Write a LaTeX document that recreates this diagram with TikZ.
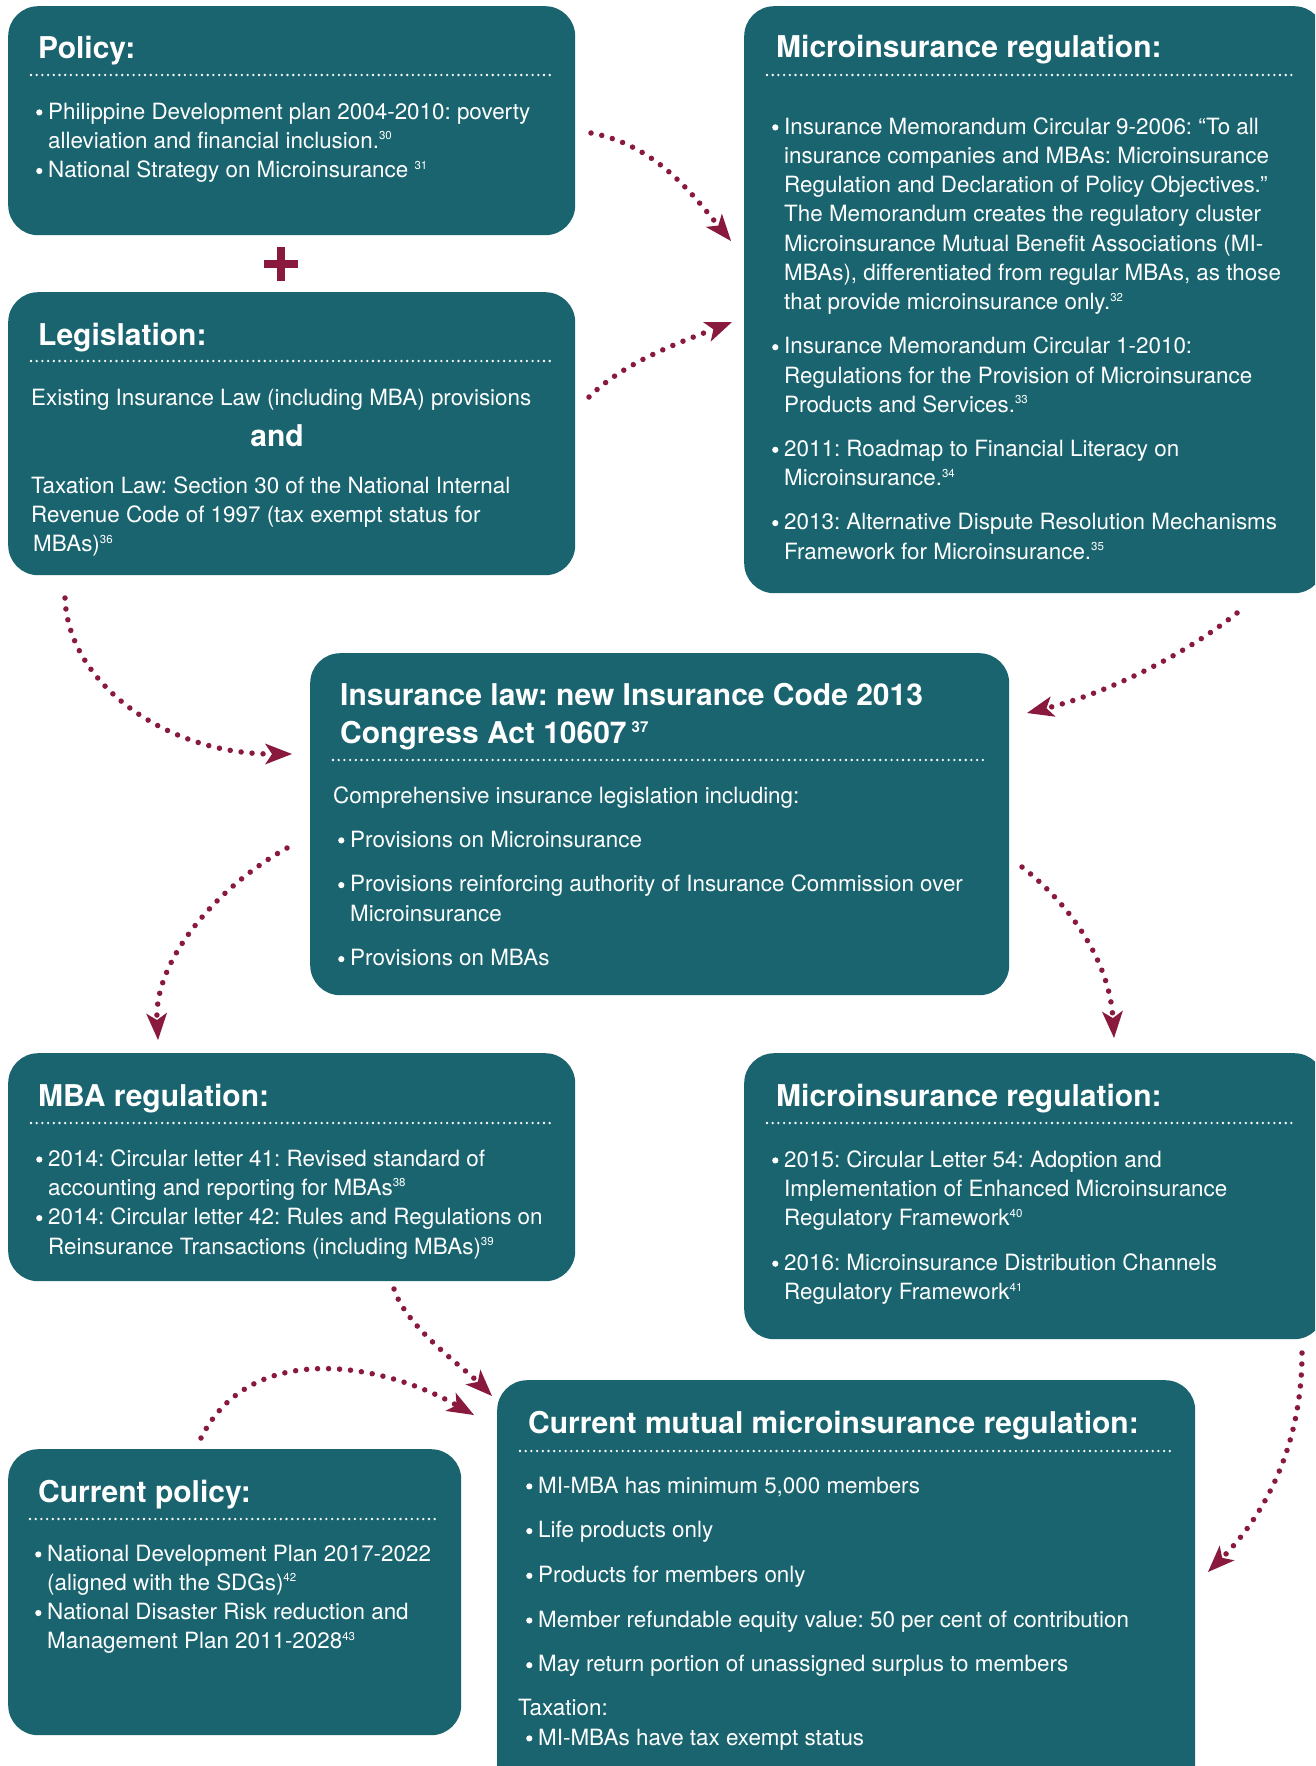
\documentclass[tikz,border=0pt]{standalone}
\usepackage{fontspec}
\setmainfont{TeX Gyre Heros}
\usetikzlibrary{arrows.meta}
\definecolor{boxteal}{RGB}{25,100,111}
\definecolor{arrowred}{RGB}{138,26,61}
\newcommand{\fnote}[1]{\raisebox{8.5pt}{\fontsize{11.5}{11.5}\selectfont #1}}
\newcommand{\hfnote}[1]{\raisebox{11pt}{\fontsize{15}{15}\selectfont #1}}
\newcommand{\bul}{\makebox[12pt][l]{\tikz[baseline=0pt]\fill[white] (3.4pt,6.6pt) circle[radius=3.1pt];}}
\newcommand{\ind}{\hspace*{12pt}}
\tikzset{
  box/.style={fill=boxteal, rounded corners=30pt, anchor=north west, inner sep=0pt, draw=none},
  head/.style={anchor=base west, inner sep=0pt, text=white, align=left, font=\fontsize{30}{38}\selectfont\bfseries\frenchspacing},
  body/.style={anchor=base west, inner sep=0pt, text=white, align=left, font=\fontsize{22.4}{29.3}\selectfont\frenchspacing},
  sep/.style={white, line width=2.6pt, line cap=round, dash pattern=on 0pt off 5.7pt},
  flow/.style={arrowred, line width=5.5pt, line cap=round, dash pattern=on 0pt off 11pt,
    -{Stealth[length=27pt, width=21pt, inset=7pt, line width=0pt]}},
}
\begin{document}
\begin{tikzpicture}[x=1pt,y=-1pt]
\useasboundingbox (0,0) rectangle (1315,1766);
\fill[white] (0,0) rectangle (1315,1766);
\begin{scope}
\clip (0,0) rectangle (1315,1766);
% boxes
\node[box, minimum width=567pt, minimum height=229pt] (policy) at (8,6) {};
\node[box, minimum width=567pt, minimum height=283pt] (legis) at (8,292) {};
\node[box, minimum width=580pt, minimum height=587pt] (microA) at (744,6) {};
\node[box, minimum width=699pt, minimum height=342pt] (center) at (310,653) {};
\node[box, minimum width=567pt, minimum height=228pt] (mba) at (8,1053) {};
\node[box, minimum width=580pt, minimum height=286pt] (microB) at (744,1053) {};
\node[box, minimum width=453pt, minimum height=286pt] (curpol) at (8,1449) {};
\node[box, minimum width=698pt, minimum height=420pt] (curmut) at (497,1380) {};
\end{scope}

% plus sign
\fill[arrowred] (276.5,247) rectangle (284.5,281);
\fill[arrowred] (263.5,260) rectangle (297.5,268);

% Policy (multi-line nodes are placed at the baseline of their last line)
\node[head] (policyH) at (38,59) {Policy:};
\draw[sep] (31,75) -- (553,75);
\node[body] (policyT) at (36,177.6) {\bul Philippine Development plan 2004-2010: poverty\\
\ind alleviation and financial inclusion.\fnote{30}\\
\bul National Strategy on Microinsurance \fnote{31}};

% Legislation
\node[head] (legisH) at (38,345) {Legislation:};
\draw[sep] (31,361) -- (553,361);
\node[body] (legisA) at (31,405) {Existing Insurance Law (including MBA) provisions};
\node[head, anchor=base] (legisAnd) at (277,446) {and};
\node[body] (legisB) at (31,551.6) {Taxation Law: Section 30 of the National Internal\\
Revenue Code of 1997 (tax exempt status for\\
\hspace*{2pt}MBAs)\fnote{36}};

% Microinsurance regulation (top)
\node[head] (microAH) at (776,58) {Microinsurance regulation:};
\draw[sep] (767,75) -- (1296,75);
\node[body] (microAT) at (772,559) {\bul Insurance Memorandum Circular 9-2006: “To all\\
\ind insurance companies and MBAs: Microinsurance\\
\ind Regulation and Declaration of Policy Objectives.”\\
\ind The Memorandum creates the regulatory cluster\\
\ind Microinsurance Mutual Benefit Associations (MI-\\
\ind MBAs), differentiated from regular MBAs, as those\\
\ind that provide microinsurance only.\fnote{32}\\[14.7pt]
\bul Insurance Memorandum Circular 1-2010:\\
\ind Regulations for the Provision of Microinsurance\\
\ind Products and Services.\fnote{33}\\[14.7pt]
\bul 2011: Roadmap to Financial Literacy on\\
\ind Microinsurance.\fnote{34}\\[14.7pt]
\bul 2013: Alternative Dispute Resolution Mechanisms\\
\ind Framework for Microinsurance.\fnote{35}};

% Center
\node[head] (centerH) at (340,743) {Insurance law: new Insurance Code 2013\\
Congress Act 10607\,\hfnote{37}};
\draw[sep] (333,760) -- (986,760);
\node[body] (centerA) at (333,803) {Comprehensive insurance legislation including:};
\node[body] (centerT) at (338,965.7) {\bul Provisions on Microinsurance\\[15.4pt]
\bul Provisions reinforcing authority of Insurance Commission over\\
\ind Microinsurance\\[15.4pt]
\bul Provisions on MBAs};

% MBA regulation
\node[head] (mbaH) at (38,1106) {MBA regulation:};
\draw[sep] (31,1123) -- (553,1123);
\node[body] (mbaT) at (36,1254) {\bul 2014: Circular letter 41: Revised standard of\\
\ind accounting and reporting for MBAs\fnote{38}\\
\bul 2014: Circular letter 42: Rules and Regulations on\\
\ind Reinsurance Transactions (including MBAs)\fnote{39}};

% Microinsurance regulation (lower)
\node[head] (microBH) at (776,1106) {Microinsurance regulation:};
\draw[sep] (767,1123) -- (1296,1123);
\node[body] (microBT) at (772,1299.6) {\bul 2015: Circular Letter 54: Adoption and\\
\ind Implementation of Enhanced Microinsurance\\
\ind Regulatory Framework\fnote{40}\\[15.4pt]
\bul 2016: Microinsurance Distribution Channels\\
\ind Regulatory Framework\fnote{41}};

% Current policy
\node[head] (curpolH) at (38,1502) {Current policy:};
\draw[sep] (30,1519) -- (438,1519);
\node[body] (curpolT) at (35,1648.9) {\bul National Development Plan 2017-2022\\
\ind (aligned with the SDGs)\fnote{42}\\
\bul National Disaster Risk reduction and\\
\ind Management Plan 2011-2028\fnote{43}};

% Current mutual
\node[head] (curmutH) at (528,1433) {Current mutual microinsurance regulation:};
\draw[sep] (520,1451) -- (1174,1451);
\node[body] (curmutT) at (526,1671.8) {\bul MI-MBA has minimum 5,000 members\\[15.4pt]
\bul Life products only\\[15.4pt]
\bul Products for members only\\[15.4pt]
\bul Member refundable equity value: 50 per cent of contribution\\[15.4pt]
\bul May return portion of unassigned surplus to members};
\node[body] (curmutTax) at (518,1715) {Taxation:};
\node[body] (curmutU) at (526,1745) {\bul MI-MBAs have tax exempt status};

% connectors
\coordinate (a1s) at (591,133); \coordinate (a1e) at (731,241);
\coordinate (a2s) at (589,397); \coordinate (a2e) at (732,322);
\coordinate (a3s) at (65,598);  \coordinate (a3e) at (292,754);
\coordinate (a4s) at (1237,613); \coordinate (a4e) at (1027,713);
\coordinate (a5s) at (287,848); \coordinate (a5e) at (158,1040);
\coordinate (a6s) at (1022,867); \coordinate (a6e) at (1114,1038);
\coordinate (a7s) at (394,1289); \coordinate (a7e) at (492,1396);
\coordinate (a8s) at (201,1438); \coordinate (a8e) at (474,1415);
\coordinate (a9s) at (1302,1353); \coordinate (a9e) at (1208,1572);
\draw[flow] (a1s) .. controls (656,145) and (693,195) .. (a1e);
\draw[flow] (a2s) .. controls (624,362) and (681,342) .. (a2e);
\draw[flow] (a3s) .. controls (68,684) and (167,754) .. (a3e);
\draw[flow] (a4s) .. controls (1178,660) and (1100,695) .. (a4e);
\draw[flow] (a5s) .. controls (217,887) and (154,960) .. (a5e);
\draw[flow] (a6s) .. controls (1077,910) and (1110,968) .. (a6e);
\draw[flow] (a7s) .. controls (406,1327) and (464,1368) .. (a7e);
\draw[flow] (a8s) .. controls (250,1340) and (380,1362) .. (a8e);
\draw[flow] (a9s) .. controls (1302,1463) and (1250,1530) .. (a9e);
\end{tikzpicture}
\end{document}
